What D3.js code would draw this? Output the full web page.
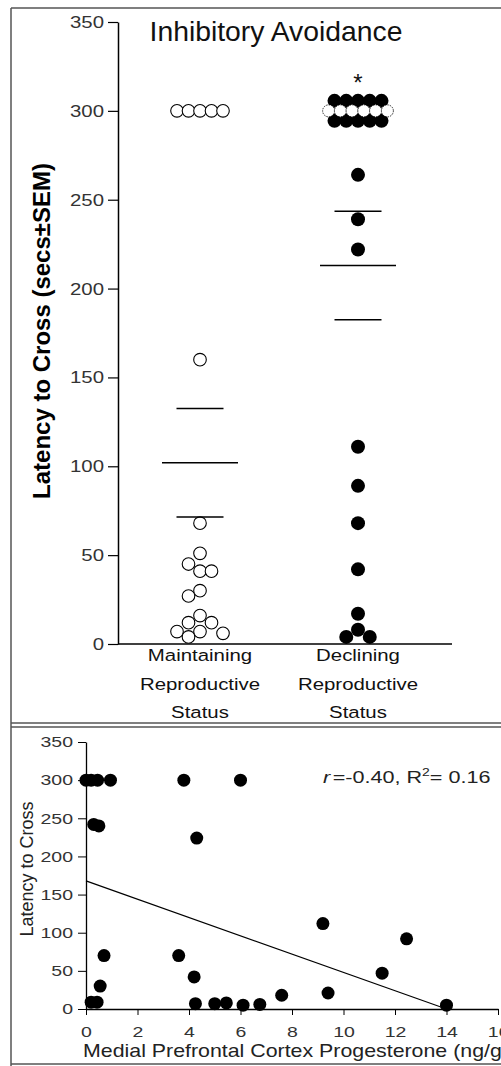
<!DOCTYPE html>
<html>
<head>
<meta charset="utf-8">
<script src="https://cdn.jsdelivr.net/npm/d3@7"></script>
<style>
  body { margin: 0; background: #fff; }
  svg { display: block; font-family: "Liberation Sans", Arial, sans-serif; }
</style>
</head>
<body>
<svg id="chart" width="501" height="1066"></svg>
<script>
// ---- data: top panel (inhibitory avoidance latency, secs) ----
const groups = ["Maintaining", "Declining"];
const groupLabel = [["Maintaining", "Reproductive", "Status"], ["Declining", "Reproductive", "Status"]];
const maintaining = [300, 300, 300, 300, 300, 160, 68, 51, 45, 41, 41, 30, 27, 16, 12, 12, 7, 7, 6, 4];
const declining = [300, 300, 300, 300, 300, 300, 300, 300, 300, 300, 300, 300, 300, 300, 300, 300,
  264, 239, 222, 111, 89, 68, 42, 17, 8, 4, 4];
const groupMean = [102, 213];
const groupSem = [30.5, 30.5];
const topTicks = [0, 50, 100, 150, 200, 250, 300, 350];

// ---- data: bottom panel (PFC progesterone vs latency) ----
const pfcProg = [0.0, 0.2, 0.45, 0.95, 3.8, 6.0, 0.3, 0.5, 4.3, 0.7, 3.6, 4.2, 0.55, 0.2, 0.43,
  4.25, 5.0, 5.45, 6.1, 6.75, 7.6, 9.2, 9.4, 11.5, 12.45, 14.0];
const pfcLatency = [300, 300, 300, 300, 300, 300, 242, 240, 224, 70, 70, 42, 30, 9, 9,
  7, 7, 8, 5, 6, 18, 112, 21, 47, 92, 5];
const fitX = [0, 14];
const fitY = [168, 0];
const bottomYTicks = [0, 50, 100, 150, 200, 250, 300, 350];
const bottomXTicks = [0, 2, 4, 6, 8, 10, 12, 14, 16];

const svg = d3.select("#chart");
const SX = 1.2; // glyphs in the source are a little wide

function addText(g, x, y, str, size, opts = {}) {
  return g.append("text")
    .attr("transform", `translate(${x},${y}) scale(${opts.sx || SX},1)`)
    .attr("text-anchor", opts.anchor || "middle")
    .style("font-size", size + "px")
    .style("font-weight", opts.weight || "normal")
    .attr("fill", opts.fill || "#111")
    .text(str);
}

// frame
const frame = svg.append("g").attr("stroke", "#555").attr("stroke-width", 1.5).attr("fill", "none");
frame.append("line").attr("x1", 11).attr("y1", 8).attr("x2", 501).attr("y2", 8);
frame.append("line").attr("x1", 11).attr("y1", 8).attr("x2", 11).attr("y2", 1066);
frame.append("line").attr("x1", 11).attr("y1", 723).attr("x2", 501).attr("y2", 723);
frame.append("line").attr("x1", 11).attr("y1", 727).attr("x2", 501).attr("y2", 727);
frame.append("line").attr("x1", 11).attr("y1", 1064).attr("x2", 501).attr("y2", 1064);

// ================= top panel =================
const topG = svg.append("g");
const y1 = d3.scaleLinear().domain([0, 350]).range([644, 22]);
const x1 = d3.scalePoint().domain(groups).range([200, 358]);

const yAxis1 = topG.append("g")
  .attr("transform", "translate(118,0)")
  .call(d3.axisLeft(y1).tickValues(topTicks).tickSize(10).tickSizeOuter(0).tickPadding(4));
yAxis1.select(".domain").attr("stroke-width", 1.5);
yAxis1.selectAll("line").attr("stroke-width", 1.2);
yAxis1.selectAll("text")
  .attr("x", -14 / SX)
  .attr("transform", `scale(${SX},1)`)
  .style("font-size", "17px")
  .attr("fill", "#333");

// x baseline, no ticks
topG.append("line")
  .attr("x1", 118).attr("x2", 452)
  .attr("y1", y1(0)).attr("y2", y1(0))
  .attr("stroke", "#000").attr("stroke-width", 1.5);

groupLabel.forEach((lines, gi) => {
  lines.forEach((s, li) => addText(topG, x1(groups[gi]), 661 + li * 28.5, s, 17));
});

addText(topG, 276, 41, "Inhibitory Avoidance", 27.5, { sx: 1.03 });

topG.append("text")
  .attr("transform", "translate(50,331) rotate(-90)")
  .attr("text-anchor", "middle")
  .style("font-size", "24px")
  .style("font-weight", "bold")
  .text("Latency to Cross (secs\u00b1SEM)");

// swarm layout: big exact ties stacked in staggered rows, rest placed greedily
function swarm(values, y, step, rowGap, maxRow) {
  const counts = d3.rollup(values, v => v.length, d => d);
  const pts = values.map(v => ({ v, dx: 0, dy: 0, mid: false }));
  const placed = [];
  for (const [v, n] of counts) {
    if (n < 5) continue;
    const grp = pts.filter(p => p.v === v);
    const rows = Math.ceil(n / maxRow);
    const base = Math.floor(n / rows);
    const c = (rows - 1) / 2;
    const rowCounts = d3.range(rows).map(() => base);
    let extra = n - base * rows;
    d3.range(rows).sort((a, b) => Math.abs(a - c) - Math.abs(b - c))
      .forEach(r => { if (extra > 0) { rowCounts[r]++; extra--; } });
    let k = 0;
    rowCounts.forEach((cnt, r) => {
      for (let j = 0; j < cnt; j++) {
        const p = grp[k++];
        p.dx = (j - (cnt - 1) / 2) * step;
        p.dy = (r - c) * rowGap;
        p.mid = rows > 1 && r === c;
        placed.push(p);
      }
    });
  }
  const rest = pts.filter(p => counts.get(p.v) < 5).sort((a, b) => b.v - a.v);
  const cand = [0, -1, 1, -2, 2, -3, 3];
  rest.forEach(p => {
    const py = y(p.v);
    for (const c of cand) {
      const dx = c * step;
      const ok = placed.every(q => Math.hypot(q.dx - dx, y(q.v) + q.dy - py) >= step);
      if (ok) { p.dx = dx; break; }
    }
    placed.push(p);
  });
  return pts;
}

const mPts = swarm(maintaining, y1, 11.5, 10, 6);
const dPts = swarm(declining, y1, 11.75, 10, 6);

topG.append("g").selectAll("circle").data(mPts).join("circle")
  .attr("cx", d => x1("Maintaining") + d.dx)
  .attr("cy", d => y1(d.v) + d.dy)
  .attr("r", 6.3)
  .attr("fill", "#fff").attr("stroke", "#000").attr("stroke-width", 1.1);

const dOrder = dPts.slice().sort((a, b) => a.mid - b.mid);
topG.append("g").selectAll("circle").data(dOrder).join("circle")
  .attr("cx", d => x1("Declining") + d.dx)
  .attr("cy", d => y1(d.v) + d.dy)
  .attr("r", d => d.mid ? 6 : 7)
  .attr("fill", d => d.mid ? "#fff" : "#000")
  .attr("stroke", "#000")
  .attr("stroke-width", d => d.mid ? 0.8 : 0)
  .attr("stroke-dasharray", d => d.mid ? "1.5,1" : null);

// mean and SEM bars
groups.forEach((g, i) => {
  const cx = x1(g);
  [[groupMean[i], 38], [groupMean[i] + groupSem[i], 23.5], [groupMean[i] - groupSem[i], 23.5]]
    .forEach(([v, hw]) => {
      topG.append("line")
        .attr("x1", cx - hw).attr("x2", cx + hw)
        .attr("y1", y1(v)).attr("y2", y1(v))
        .attr("stroke", "#000").attr("stroke-width", 1.5);
    });
});

addText(topG, x1("Declining"), y1(300) - 20, "*", 24, { sx: 1 });

// ================= bottom panel =================
const botG = svg.append("g");
const x2 = d3.scaleLinear().domain([0, 16]).range([86, 498]);
const y2 = d3.scaleLinear().domain([0, 350]).range([1009, 742]);

const yAxis2 = botG.append("g")
  .attr("transform", "translate(86,0)")
  .call(d3.axisLeft(y2).tickValues(bottomYTicks).tickSize(8).tickSizeOuter(0).tickPadding(5));
yAxis2.selectAll("text")
  .attr("transform", "scale(1.3,1)")
  .attr("x", -13 / 1.3)
  .style("font-size", "15px")
  .attr("fill", "#333");

const xAxis2 = botG.append("g")
  .attr("transform", `translate(0,${y2(0)})`)
  .call(d3.axisBottom(x2).tickValues(bottomXTicks).tickSize(6).tickSizeOuter(0).tickPadding(11));
xAxis2.selectAll("text")
  .attr("transform", "scale(1.3,1)")
  .style("font-size", "15px")
  .attr("fill", "#333");
[yAxis2, xAxis2].forEach(a => a.select(".domain").attr("stroke-width", 1.3));

botG.append("text")
  .attr("transform", "translate(33,869) rotate(-90)")
  .attr("text-anchor", "middle")
  .style("font-size", "18px")
  .attr("fill", "#222")
  .text("Latency to Cross");

addText(botG, 83, 1057, "Medial Prefrontal Cortex Progesterone (ng/g)", 17.5, { anchor: "start", sx: 1.22, fill: "#222" });

const fitLine = d3.line().x(d => x2(d[0])).y(d => y2(d[1]));
botG.append("path")
  .datum(d3.zip(fitX, fitY))
  .attr("d", fitLine)
  .attr("fill", "none").attr("stroke", "#000").attr("stroke-width", 1.2);

botG.append("g").selectAll("circle")
  .data(d3.zip(pfcProg, pfcLatency))
  .join("circle")
  .attr("cx", d => x2(d[0]))
  .attr("cy", d => y2(d[1]))
  .attr("r", 6.5)
  .attr("fill", "#000");

const stat = botG.append("text")
  .attr("transform", "translate(323,783) scale(1.27,1)")
  .style("font-size", "17px")
  .attr("fill", "#222");
stat.append("tspan").style("font-style", "italic").text("r");
stat.append("tspan").attr("dx", 2).text("=-0.40, R");
stat.append("tspan").attr("dy", -7).style("font-size", "11px").text("2");
stat.append("tspan").attr("dy", 7).text("= 0.16");
</script>
</body>
</html>
